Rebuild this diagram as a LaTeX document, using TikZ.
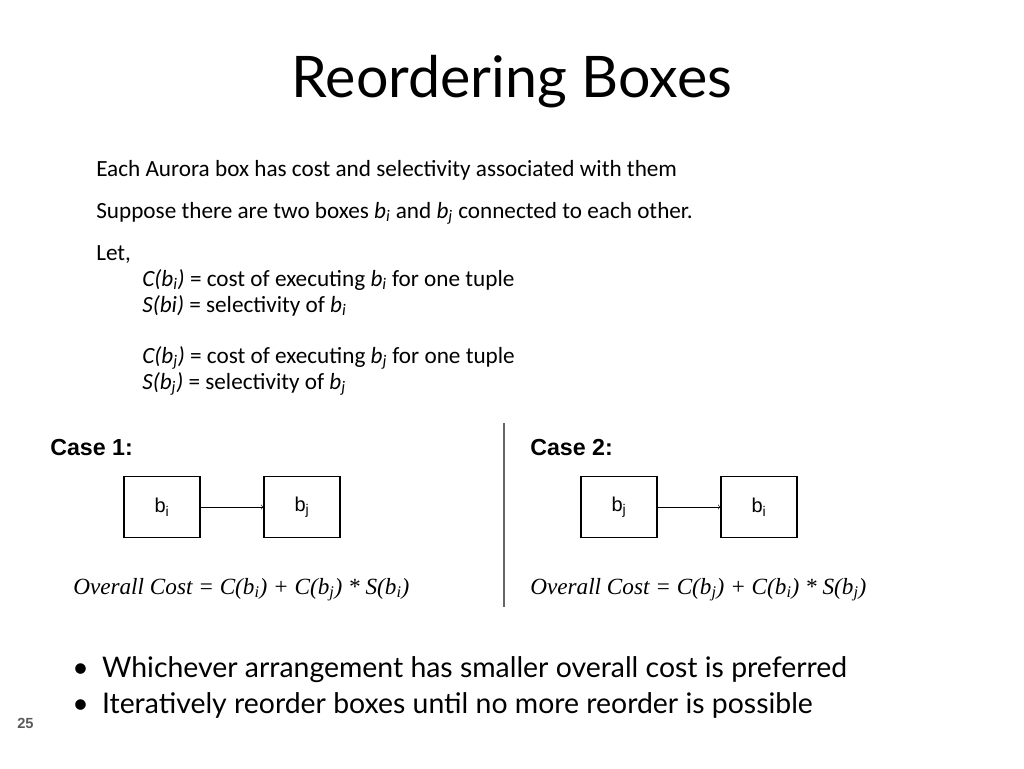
\documentclass[tikz,border=0pt]{standalone}
\usepackage{fontspec}
\setmainfont{Carlito}
\newfontfamily\titlefont{Lato}
\newfontfamily\arialfont{Liberation Sans}
\newfontfamily\timesfont{Liberation Serif}
\usetikzlibrary{positioning}

\begin{document}
\begin{tikzpicture}[x=0.75pt,y=-0.75pt,>=to]
    \tikzstyle{boxnode}=[draw=black,thick,minimum width=57pt,minimum height=46pt,inner sep=0pt,font=\arialfont\fontsize{15}{17}\selectfont]
    \tikzstyle{bodytext}=[anchor=base west,inner sep=0pt,font=\fontsize{17.4}{20}\selectfont]
    \tikzstyle{casetext}=[anchor=base west,inner sep=0pt,font=\arialfont\bfseries\fontsize{17.4}{20}\selectfont]
    \tikzstyle{costtext}=[anchor=base west,inner sep=0pt,font=\timesfont\itshape\fontsize{17.4}{20}\selectfont]
    \tikzstyle{bullettext}=[anchor=base west,inner sep=0pt,font=\fontsize{21.3}{24}\selectfont\titlefont]

    \useasboundingbox (0,0) rectangle (1024,768);

    \node[font=\titlefont\fontsize{43}{50}\selectfont] (title) at (512,82) {Reordering Boxes};

    \node[bodytext] (l1) at (96,176) {Each Aurora box has cost and selectivity associated with them};
    \node[bodytext] (l2) at (96,218) {Suppose there are two boxes \textit{b\textsubscript{i}} and \textit{b\textsubscript{j}} connected to each other.};
    \node[bodytext] (l3) at (96,260) {Let,};
    \node[bodytext] (l4) at (142,286) {\textit{C(b\textsubscript{i})} = cost of executing \textit{b\textsubscript{i}} for one tuple};
    \node[bodytext] (l5) at (142,312) {\textit{S(bi)} = selectivity of \textit{b\textsubscript{i}}};
    \node[bodytext] (l6) at (142,363) {\textit{C(b\textsubscript{j})} = cost of executing \textit{b\textsubscript{j}} for one tuple};
    \node[bodytext] (l7) at (142,389) {\textit{S(b\textsubscript{j})} = selectivity of \textit{b\textsubscript{j}}};

    % case 1
    \node[casetext] (case1) at (50,455) {Case 1:};
    \node[boxnode] (bi1) at (162,507) {b\textsubscript{i}};
    \node[boxnode] (bj1) at (302,507) {b\textsubscript{j}};
    \draw[->] (bi1) -- (bj1);
    \node[costtext] (cost1) at (73,594) {Overall Cost = C(b\textsubscript{i}) + C(b\textsubscript{j}) * S(b\textsubscript{i})};

    % case 2
    \node[casetext] (case2) at (530,455) {Case 2:};
    \node[boxnode] (bj2) at (619,507) {b\textsubscript{j}};
    \node[boxnode] (bi2) at (759,507) {b\textsubscript{i}};
    \draw[->] (bj2) -- (bi2);
    \node[costtext] (cost2) at (530,594) {Overall Cost = C(b\textsubscript{j}) + C(b\textsubscript{i}) * S(b\textsubscript{j})};

    \draw[gray!80!black,thick] (504,423) -- (504,607);

    \node[bullettext] (p1) at (72,677) {\textbullet\hspace{10pt}Whichever arrangement has smaller overall cost is preferred};
    \node[bullettext] (p2) at (72,713) {\textbullet\hspace{10pt}Iteratively reorder boxes until no more reorder is possible};

    \node[anchor=base west,inner sep=0pt,text=gray!70!black,font=\arialfont\bfseries\fontsize{11}{13}\selectfont] (num) at (17,728) {25};
\end{tikzpicture}
\end{document}
